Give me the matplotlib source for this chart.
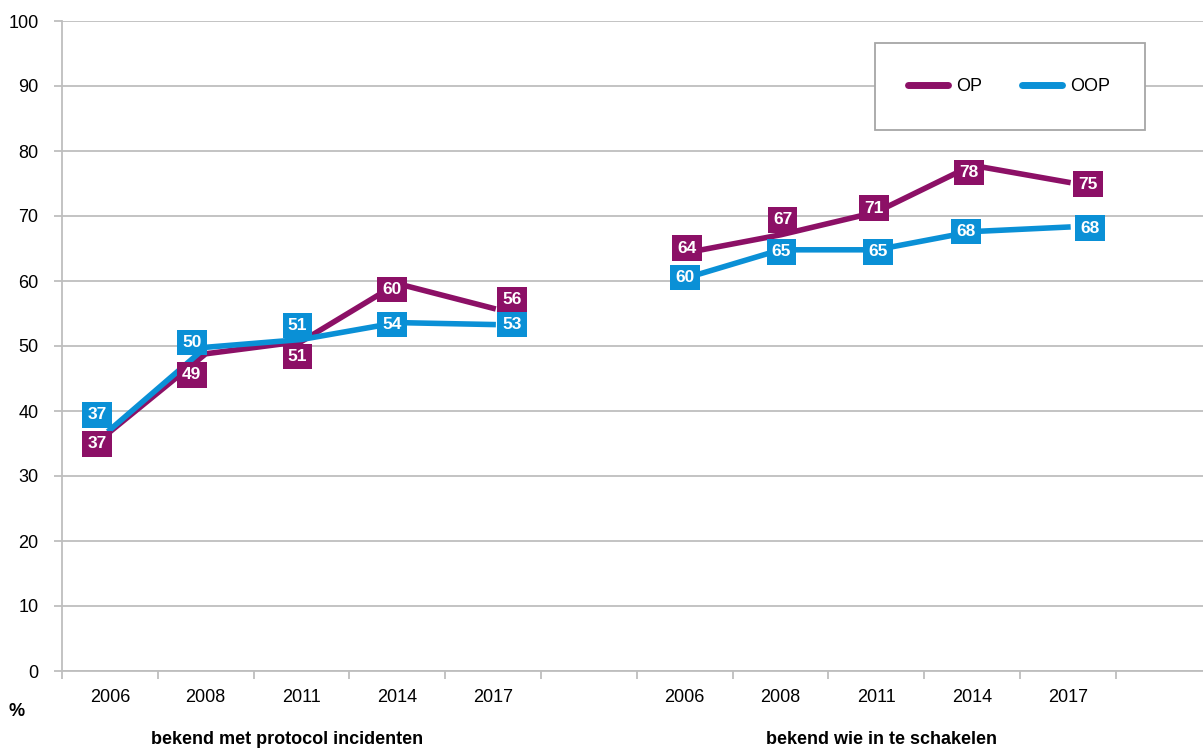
import matplotlib
matplotlib.use("Agg")
import matplotlib.pyplot as plt
from matplotlib import font_manager
from matplotlib.patches import Rectangle
from matplotlib.lines import Line2D

# ---------------- data ----------------
years = ["2006", "2008", "2011", "2014", "2017"]
groups = ["bekend met protocol incidenten", "bekend wie in te schakelen"]
series_names = ["OP", "OOP"]
op_protocol = [36.8, 48.8, 50.7, 59.6, 55.8]
oop_protocol = [37.1, 49.8, 51.0, 53.6, 53.3]
op_schakelen = [64.3, 67.1, 70.6, 77.8, 75.2]
oop_schakelen = [60.4, 64.8, 64.8, 67.6, 68.3]
y_ticks = [0, 10, 20, 30, 40, 50, 60, 70, 80, 90, 100]

# label offsets (pixels) for the data labels: (dx, dy)
op_offsets = [(-13, -12), (-14, -21), (-4, -15), (-5, -6), (19, 9),
              (2, 5), (2, 15), (-2, 4), (-3, -7), (20, -2)]
oop_offsets = [(-13, 15), (-14, 5), (-4, 14), (-5, -2), (19, 0),
               (0, 1), (1, -2), (2, -2), (-6, 0), (22, -1)]

# ---------------- style ----------------
names = {f.name for f in font_manager.fontManager.ttflist}
FONT = "Liberation Sans Narrow" if "Liberation Sans Narrow" in names else "Liberation Sans"
plt.rcParams["font.family"] = [FONT, "DejaVu Sans"]
FS = 13

OP_COLOR = "#8C1066"
OOP_COLOR = "#0A90D6"
GRID = "#BEBEBE"

W, H = 1203, 751
fig = plt.figure(figsize=(W / 100, H / 100), dpi=100)
ax = fig.add_axes([62 / W, (H - 671) / H, (W - 62) / W, 650 / H])

x1 = list(range(len(years)))
x2 = [i + len(years) + 1 for i in range(len(years))]
xs = x1 + x2
op_all = op_protocol + op_schakelen
oop_all = oop_protocol + oop_schakelen

for xg, op_vals, oop_vals in [(x1, op_protocol, oop_protocol), (x2, op_schakelen, oop_schakelen)]:
    ax.plot(xg, op_vals, color=OP_COLOR, lw=4, solid_joinstyle="miter", zorder=3)
    ax.plot(xg, oop_vals, color=OOP_COLOR, lw=4, solid_joinstyle="miter", zorder=4)

def label(x, v, off, color, z):
    ax.annotate(f"{v:.0f}", (x, v), xytext=off, textcoords="offset pixels",
                ha="center", va="center", color="white", fontsize=12.5, fontweight="bold",
                bbox=dict(boxstyle="square,pad=0.3", fc=color, ec="none"), zorder=z)

for x, v, off in zip(xs, op_all, op_offsets):
    label(x, v, off, OP_COLOR, 5)
for x, v, off in zip(xs, oop_all, oop_offsets):
    label(x, v, off, OOP_COLOR, 6)

# axes
ax.set_ylim(0, 100)
ax.set_xlim(-0.5, -0.5 + (W - 62) / 95.8)
ax.set_yticks(y_ticks)
ax.set_yticklabels([str(t) for t in y_ticks])
ax.yaxis.grid(True, color=GRID, lw=1.3)
ax.set_axisbelow(True)
ax.set_xticks(xs)
ax.set_xticklabels(years + years)
ax.set_xticks([i - 0.5 for i in range(12)], minor=True)
ax.tick_params(axis="x", which="major", length=0, pad=13, labelsize=FS, colors="black")
ax.tick_params(axis="x", which="minor", length=6, width=1.3, color=GRID, direction="out")
ax.tick_params(axis="y", length=6, width=1.3, color=GRID, pad=11, labelsize=FS)
for s in ["top", "right"]:
    ax.spines[s].set_visible(False)
for s in ["left", "bottom"]:
    ax.spines[s].set_color(GRID)
    ax.spines[s].set_linewidth(1.3)

# texts
fig.text(17 / W, 1 - 712 / H, "%", ha="center", va="center", fontsize=FS, fontweight="bold")
fig.text(287 / W, 1 - 740 / H, groups[0], ha="center", va="center", fontsize=FS, fontweight="bold")
fig.text(881 / W, 1 - 740 / H, groups[1], ha="center", va="center", fontsize=FS, fontweight="bold")

# legend box
fig.patches.append(Rectangle((875 / W, 1 - 130 / H), 270 / W, 87 / H, transform=fig.transFigure,
                             fc="white", ec="#A6A6A6", lw=1.3, zorder=10))
handles = [Line2D([], [], color=OP_COLOR, lw=5, solid_capstyle="round"),
           Line2D([], [], color=OOP_COLOR, lw=5, solid_capstyle="round")]
leg = fig.legend(handles, series_names, loc="center", bbox_to_anchor=(1009 / W, 1 - 86.5 / H),
                 ncol=2, frameon=False, fontsize=FS, handlelength=2.2, handletextpad=0.45,
                 columnspacing=2.2)
leg.set_zorder(11)

fig.savefig("out.png", dpi=100)
